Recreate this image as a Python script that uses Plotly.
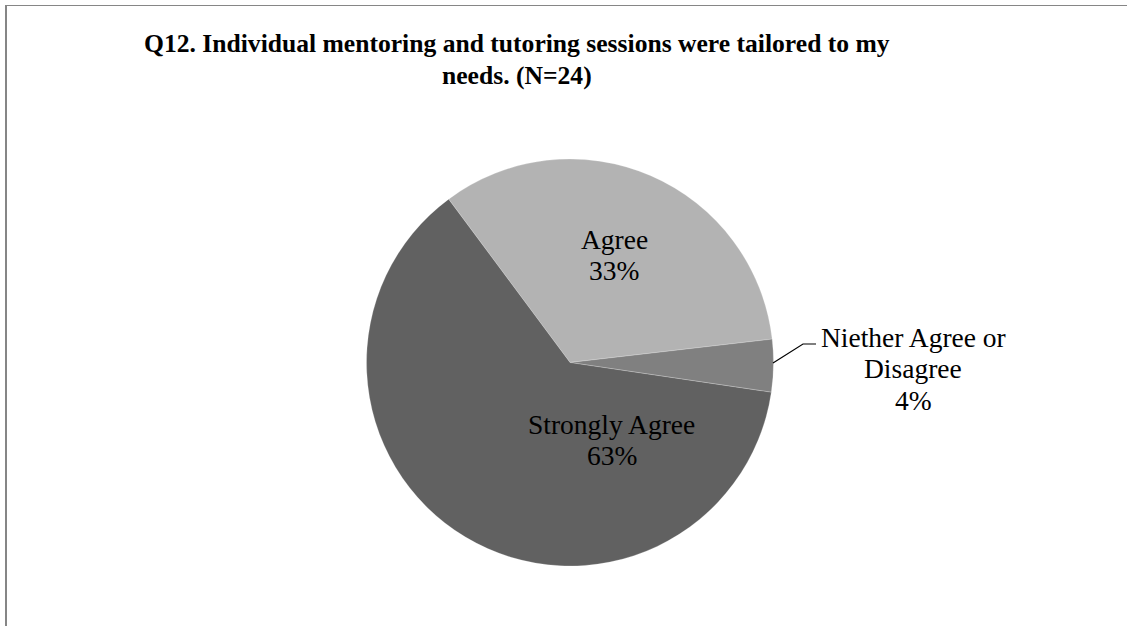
import plotly.graph_objects as go

# Survey responses, Q12 (N=24)
categories = ["Agree", "Niether Agree or Disagree", "Strongly Agree"]
label_lines = [["Agree"], ["Niether Agree or", "Disagree"], ["Strongly Agree"]]
counts = [8, 1, 15]
colors = ["#b3b3b3", "#808080", "#616161"]
title_lines = ["Q12. Individual mentoring and tutoring sessions were tailored to my",
               "needs. (N=24)"]

W, H = 1127, 626
total = sum(counts)
pct = [int(100 * c / total + 0.5) for c in counts]

# Pie geometry in pixels
cx, cy, r = 570, 362.5, 203.5

fig = go.Figure(
    go.Pie(
        labels=categories,
        values=counts,
        sort=False,
        direction="clockwise",
        rotation=-36.6,
        marker=dict(colors=colors, line=dict(color="rgba(255,255,255,0.45)", width=0.5)),
        textinfo="none",
        hoverinfo="label+percent",
        showlegend=False,
        domain=dict(x=[(cx - r) / W, (cx + r) / W], y=[1 - (cy + r) / H, 1 - (cy - r) / H]),
    )
)

serif = "Liberation Serif, Times New Roman, serif"
label_size = 27.5
line_gap = 31.5

def text_line(txt, x, y_mid, size, bold=False):
    fig.add_annotation(
        x=x / W, y=1 - y_mid / H, xref="paper", yref="paper",
        text=f"<b>{txt}</b>" if bold else txt, showarrow=False,
        font=dict(family=serif, size=size, color="#000000"),
        xanchor="center", yanchor="middle",
    )

# Data labels (text built from the values); first-line centre positions
label_pos = [(614, 239), (913, 337), (612, 424)]
for lines, p, (lx, ly) in zip(label_lines, pct, label_pos):
    for i, t in enumerate(lines + [f"{p}%"]):
        text_line(t, lx, ly + i * line_gap, label_size)

# Leader line for the small slice
fig.add_shape(
    type="path", xref="paper", yref="paper",
    path=f"M {773/W} {1-363/H} L {803/W} {1-344/H} L {816/W} {1-344/H}",
    line=dict(color="#000000", width=1.2),
)

# Title
for i, t in enumerate(title_lines):
    text_line(t, 517, 43.5 + i * 32, 25.6, bold=True)

# Chart-area frame (top and left edges)
fig.add_shape(type="line", xref="paper", yref="paper",
              x0=6 / W, x1=1.0, y0=1 - 5.5 / H, y1=1 - 5.5 / H,
              line=dict(color="#868686", width=1.2))
fig.add_shape(type="line", xref="paper", yref="paper",
              x0=6 / W, x1=6 / W, y0=1 - 5 / H, y1=0,
              line=dict(color="#868686", width=2))

fig.update_layout(
    width=W, height=H,
    margin=dict(l=0, r=0, t=0, b=0),
    paper_bgcolor="#ffffff",
    plot_bgcolor="#ffffff",
)

fig.write_html("out.html")
